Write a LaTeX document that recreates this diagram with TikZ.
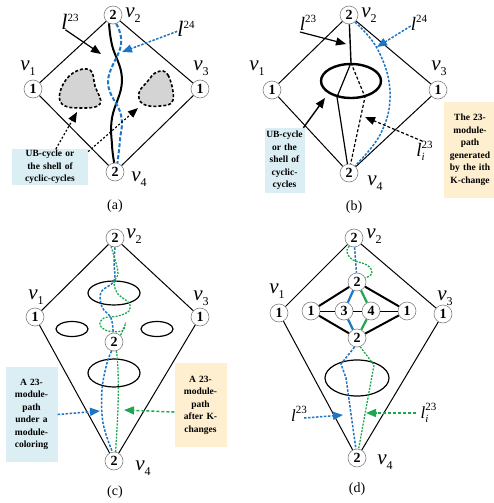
\documentclass[tikz,border=0pt]{standalone}
\usepackage{fontspec}
\setmainfont{Liberation Serif}
\usetikzlibrary{arrows.meta,positioning,shapes.geometric}
\definecolor{pathBlue}{HTML}{1C75C6}
\definecolor{pathGreen}{HTML}{1DA84F}
\definecolor{boxBlue}{HTML}{DAEEF3}
\definecolor{boxYellow}{HTML}{FDEFD0}
\definecolor{blobGray}{HTML}{D4D4D4}
\newcommand{\vlab}[1]{\textit{v}\raisebox{-5pt}{\fontsize{12}{12}\selectfont #1}}
\newcommand{\llab}[1]{\textit{l}\raisebox{8pt}{\fontsize{11}{11}\selectfont #1}}
\newcommand{\lilab}[1]{\textit{l}\rlap{\raisebox{8pt}{\fontsize{11}{11}\selectfont #1}}\raisebox{-4pt}{\fontsize{11}{11}\selectfont\itshape i}\hphantom{\fontsize{11}{11}\selectfont #1}}
\tikzset{
  vtx/.style={circle,draw=gray,line width=0.6pt,fill=white,minimum size=18pt,
              inner sep=0pt,font=\fontsize{14}{14}\selectfont\bfseries},
  vname/.style={inner sep=0pt,font=\fontsize{21}{21}\selectfont},
  lname/.style={inner sep=0pt,font=\fontsize{22}{22}\selectfont},
  edge/.style={line width=1pt},
  tagbox/.style={align=center,inner sep=1pt,font=\fontsize{9.5}{12.5}\selectfont\bfseries},
  bluepath/.style={pathBlue,line width=1.5pt,dash pattern=on 2.5pt off 1.5pt},
  greenpath/.style={pathGreen,line width=1.3pt,dash pattern=on 2pt off 1.3pt},
  pointer/.style={-{Triangle[length=10pt,width=8pt]}},
  caption/.style={font=\fontsize{14}{14}\selectfont},
  cyc/.style={draw,ellipse,inner sep=0pt},
}

\begin{document}
\begin{tikzpicture}[x=1pt,y=-1pt]
  \useasboundingbox (0,0) rectangle (494,503);

  % (a)
  \node[vtx] (a2) at (113,15) {2};
  \node[vtx] (a1) at (33,89) {1};
  \node[vtx] (a3) at (200,89) {1};
  \node[vtx] (a4) at (115,172) {2};
  \node[vname] (av2) at (133,15) {\vlab{2}};
  \node[vname] (av1) at (28,68) {\vlab{1}};
  \node[vname] (av3) at (201,68) {\vlab{3}};
  \node[vname] (av4) at (139,179) {\vlab{4}};
  \draw[edge] (a1) -- (a2) -- (a3) -- (a4) -- (a1);
  \draw[fill=blobGray,line width=1.6pt,dash pattern=on 3pt off 2pt]
    plot[smooth cycle,tension=0.7] coordinates {(73,73) (90,70) (95,86) (100,104) (80,108) (62,104) (61,89)};
  \draw[fill=blobGray,line width=1.6pt,dash pattern=on 3pt off 2pt]
    plot[smooth cycle,tension=0.7] coordinates {(157,72) (168,75) (173,100) (160,106) (143,104) (139,93) (147,82)};
  \coordinate (ablobL) at (77,112);
  \coordinate (ablobR) at (138,108);
  \draw[line width=2pt] plot[smooth,tension=0.7] coordinates {(a2.-115) (112,45) (122,80) (112,118) (112,145) (a4.95)};
  \draw[pathBlue,line width=2pt,dash pattern=on 4pt off 2pt]
    plot[smooth,tension=0.7] coordinates {(a2.-70) (121,45) (108,82) (121,115) (120,140) (a4.75)};
  \node[lname] (al23) at (70,22) {\llab{23}};
  \node[lname] (al24) at (186,29) {\llab{24}};
  \coordinate (atip23) at (101,54);
  \coordinate (atip24) at (122,52);
  \draw[pointer,line width=1.2pt] (al23.-120) -- (atip23);
  \draw[pointer,pathBlue,line width=1.5pt,dash pattern=on 2.5pt off 1.5pt] (al24.-165) -- (atip24);
  \node[tagbox,fill=boxBlue,text width=74pt,minimum height=35pt] (aub) at (50,167)
    {UB-cycle or\\the shell of\\cyclic-cycles};
  \draw[pointer,line width=1.2pt,dash pattern=on 2pt off 2pt] (aub.72) -- (ablobL);
  \draw[pointer,line width=1.2pt,dash pattern=on 2pt off 2pt] (aub.22) -- (ablobR);
  \node[caption] (acap) at (115,206) {(a)};

  % (b)
  \node[vtx] (b2) at (349,15) {2};
  \node[vtx] (b1) at (272,90) {1};
  \node[vtx] (b3) at (438,90) {1};
  \node[vtx] (b4) at (349,173) {2};
  \node[vname] (bv2) at (369,15) {\vlab{2}};
  \node[vname] (bv1) at (257,68) {\vlab{1}};
  \node[vname] (bv3) at (439,68) {\vlab{3}};
  \node[vname] (bv4) at (375,183) {\vlab{4}};
  \draw[edge] (b1) -- (b2) -- (b3) -- (b4) -- (b1);
  \node[cyc,line width=2.4pt,minimum width=60pt,minimum height=34pt] (bcyc) at (351,81) {};
  \draw[line width=1.4pt] (b2) -- (bcyc.north);
  \draw[line width=1.2pt] (bcyc.north) -- (337,97) -- (b4.100);
  \draw[line width=1.2pt,dash pattern=on 3pt off 2pt] (bcyc.north) -- (365,97) -- (b4.80);
  \draw[bluepath] plot[smooth,tension=0.7] coordinates {(b2.-50) (378,50) (390,92) (381,133) (b4.50)};
  \node[lname,font=\fontsize{19}{19}\selectfont] (bl23) at (308,23) {\llab{23}};
  \node[lname,font=\fontsize{19}{19}\selectfont] (bl24) at (419,23) {\llab{24}};
  \node[lname,font=\fontsize{19}{19}\selectfont] (bli) at (426,151) {\lilab{23}};
  \coordinate (btip23) at (346,44);
  \coordinate (btip24) at (377,47);
  \coordinate (btipi) at (365,117);
  \draw[pointer,line width=1.2pt] (300,32) -- (btip23);
  \draw[pointer,pathBlue,line width=1.5pt,dash pattern=on 2.5pt off 1.5pt] (bl24.-160) -- (btip24);
  \draw[pointer,line width=1.2pt,dash pattern=on 3pt off 2pt] (bli.110) -- (btipi);
  \node[tagbox,fill=boxBlue,text width=38pt,minimum height=65pt] (bub) at (284.5,160.5)
    {UB-cycle\\or the\\shell of\\cyclic-\\cycles};
  \coordinate (btipc) at (325,98);
  \draw[pointer,line width=1.4pt] (bub.60) -- (btipc);
  \node[tagbox,fill=boxYellow,text width=50pt,minimum height=96pt] (bkc) at (470,150)
    {The 23-\\module-\\path\\generated\\by the ith\\K-change};
  \node[caption] (bcap) at (354,207) {(b)};

  % (c)
  \node[vtx] (c2) at (115,238) {2};
  \node[vtx] (c1) at (35,317) {1};
  \node[vtx] (c3) at (200,317) {1};
  \node[vtx] (c4) at (114,461) {2};
  \node[vname] (cv2) at (134,236) {\vlab{2}};
  \node[vname] (cv1) at (36,297) {\vlab{1}};
  \node[vname] (cv3) at (201,298) {\vlab{3}};
  \node[vname] (cv4) at (143,468) {\vlab{4}};
  \draw[edge] (c1) -- (c2) -- (c3) -- (c4) -- (c1);
  \node[cyc,line width=1.2pt,minimum width=52pt,minimum height=24pt] (ctop) at (114,293) {};
  \node[cyc,line width=1.2pt,minimum width=32pt,minimum height=15pt] (cleft) at (72,329) {};
  \node[cyc,line width=1.2pt,minimum width=32pt,minimum height=15pt] (cright) at (157,329) {};
  \node[cyc,line width=1.2pt,minimum width=52pt,minimum height=28pt] (clow) at (114,373) {};
  \node[vtx] (cm) at (114,342) {2};
  \draw[bluepath] plot[smooth,tension=0.6] coordinates {(c2.-90) (114,262) (114,281) (101,292) (102,307) (111,318) (cm.95)};
  \draw[greenpath] plot[smooth,tension=0.6] coordinates {(c2.-115) (116,263) (118,274) (114,283) (118,294) (129,303) (129,311) (118,316) (104,318) (100,325) (108,331) (122,331) (125,325) (cm.45)};
  \draw[bluepath] plot[smooth,tension=0.6] coordinates {(cm.-105) (107,363) (102,390) (103,423) (c4.100)};
  \draw[greenpath] plot[smooth,tension=0.6] coordinates {(cm.-75) (118,370) (118,407) (c4.80)};
  \node[tagbox,fill=boxBlue,text width=50pt,minimum height=95pt] (cub) at (31.5,414.5)
    {A 23-\\module-\\path\\under a\\module-\\coloring};
  \node[tagbox,fill=boxYellow,text width=50pt,minimum height=84pt] (cyk) at (200.5,405)
    {A 23-\\module-\\path\\after K-\\changes};
  \coordinate (ctipb) at (100,411);
  \coordinate (ctipg) at (124,410);
  \draw[pointer,pathBlue,line width=1.5pt,dash pattern=on 2.5pt off 1.5pt] (cub.east) -- (ctipb);
  \draw[pointer,pathGreen,line width=1.5pt,dash pattern=on 3pt off 2pt] (cyk.195) -- (ctipg);
  \node[caption] (ccap) at (115,492) {(c)};

  % (d)
  \node[vtx] (d2) at (354,238) {2};
  \node[vtx] (d1) at (279,313) {1};
  \node[vtx] (d3) at (443,314) {1};
  \node[vtx] (d4) at (357,458) {2};
  \node[vname] (dv2) at (374,236) {\vlab{2}};
  \node[vname] (dv1) at (277,291) {\vlab{1}};
  \node[vname] (dv3) at (445,298) {\vlab{3}};
  \node[vname] (dv4) at (385,462) {\vlab{4}};
  \draw[edge] (d1) -- (d2) -- (d3) -- (d4) -- (d1);
  \node[vtx] (dt) at (357,282) {2};
  \node[vtx] (db) at (357,338) {2};
  \node[vtx] (dl) at (311,311) {1};
  \node[vtx] (dm3) at (344,311) {3};
  \node[vtx] (dm4) at (371,311) {4};
  \node[vtx] (dr) at (407,311) {1};
  \draw[line width=2pt] (dl) -- (dt) -- (dr) -- (db) -- (dl);
  \draw[edge] (dl) -- (dm3) -- (dm4) -- (dr);
  \draw[pathBlue,line width=2.2pt] (dt) -- (dm3) -- (db);
  \draw[pathGreen,line width=2.2pt] (dt) -- (dm4) -- (db);
  \draw[bluepath] (d2) -- (dt);
  \draw[greenpath] plot[smooth,tension=0.7] coordinates {(d2.-120) (347,252) (353,260) (367,265) (372,273) (dt.25)};
  \node[cyc,line width=1.2pt,minimum width=64pt,minimum height=36pt] (dlow) at (357,378) {};
  \draw[bluepath] (db.-105) -- (341,364) -- (346,378) -- (d4.97);
  \draw[greenpath] (db.-70) -- (374,365) -- (d4.80);
  \node[lname,font=\fontsize{17}{17}\selectfont] (dl23) at (299,414) {\llab{23}};
  \node[lname,font=\fontsize{17}{17}\selectfont] (dli) at (430,413) {\lilab{23}};
  \coordinate (dtipb) at (343,415);
  \coordinate (dtipg) at (366,413);
  \draw[pointer,pathBlue,line width=1.5pt,dash pattern=on 2.5pt off 1.5pt] (304,418) -- (dtipb);
  \draw[pointer,pathGreen,line width=1.5pt,dash pattern=on 3pt off 2pt] (416,413) -- (dtipg);
  \node[caption] (dcap) at (357,489) {(d)};
\end{tikzpicture}
\end{document}
